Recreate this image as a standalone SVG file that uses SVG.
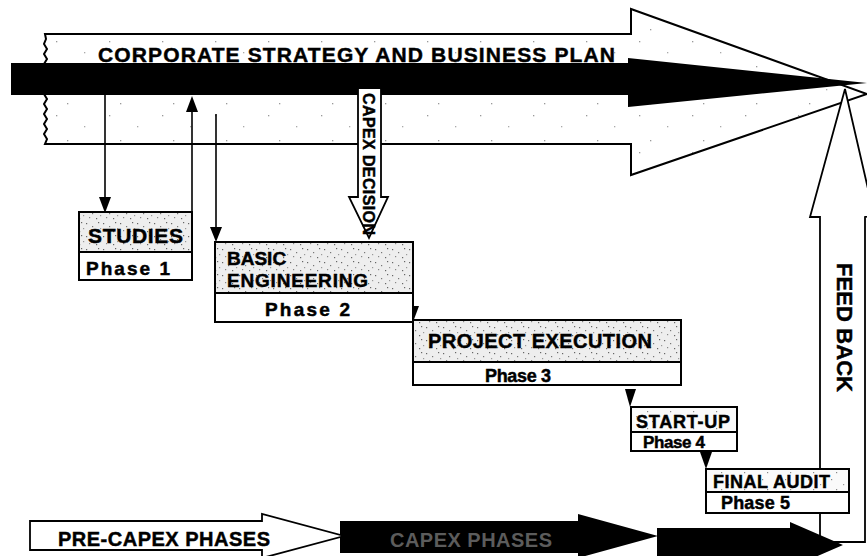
<svg xmlns="http://www.w3.org/2000/svg" width="867" height="556" viewBox="0 0 867 556">
<style>
.t{font-family:"Liberation Sans",Arial,sans-serif;font-weight:bold;fill:#000;stroke:#000;stroke-width:0.45}
.ol{fill:none;stroke:#000;stroke-width:2;stroke-linejoin:miter}
.box{stroke:#000;stroke-width:2}
.ln{stroke:#000;stroke-width:1.6;fill:none}
</style>
<defs>
<pattern id="sparse" width="53" height="37" patternUnits="userSpaceOnUse">
<rect width="53" height="37" fill="#fff"/>
<rect x="3" y="4" width="1.3" height="1.3" fill="#999"/>
<rect x="31" y="15" width="1.3" height="1.3" fill="#aaa"/>
<rect x="14" y="29" width="1.3" height="1.3" fill="#999"/>
</pattern>
<pattern id="dense" width="17" height="13" patternUnits="userSpaceOnUse">
<rect width="17" height="13" fill="#eeeeee"/>
<rect x="1" y="2" width="1.2" height="1.2" fill="#666"/>
<rect x="7" y="5" width="1.2" height="1.2" fill="#777"/>
<rect x="13" y="1" width="1.2" height="1.2" fill="#666"/>
<rect x="4" y="9" width="1.2" height="1.2" fill="#888"/>
<rect x="11" y="10" width="1.2" height="1.2" fill="#666"/>
<rect x="15" y="7" width="1.2" height="1.2" fill="#999"/>
</pattern>
<pattern id="light" width="23" height="17" patternUnits="userSpaceOnUse">
<rect width="23" height="17" fill="#fafafa"/>
<rect x="3" y="3" width="1.2" height="1.2" fill="#888"/>
<rect x="15" y="8" width="1.2" height="1.2" fill="#999"/>
<rect x="8" y="13" width="1.2" height="1.2" fill="#888"/>
</pattern>
</defs>

<g id="strategy-arrow">
<polygon points="45,34 631,34 631,9 867,94 631,175 631,144 45,144" fill="url(#sparse)"/>
<path class="ol" d="M45,34 H631 V9 L867,94 L631,175 V144 H45 l2,-5 l-3,-5 l3,-5 l-3,-5 l3,-5 l-3,-5 l3,-5 l-3,-5 l3,-5 l-3,-5 l3,-5 l-3,-5 l3,-5 l-3,-5 l3,-5 l-3,-5 l3,-5 l-3,-5 l3,-5 l-3,-5 l2,-5 l-1,-5 Z"/>
<polygon points="11,63 628,63 628,58 867,83 628,107 628,95 11,95" fill="#000"/>
<text class="t" x="98" y="62" font-size="21" textLength="517" lengthAdjust="spacing">CORPORATE STRATEGY AND BUSINESS PLAN</text>
</g>

<g id="capex-decision">
<polygon points="358,88 381,88 381,197 388,197 369,238 349,197 358,197" fill="#fff" stroke="#000" stroke-width="1.8"/>
<text class="t" transform="translate(363,93) rotate(90)" font-size="16" textLength="142" lengthAdjust="spacing">CAPEX DECISION</text>
</g>

<g id="feed-back">
<polygon points="820,542 820,217 810,217 845,89 874,215 865,217 865,542" fill="#fff" stroke="#000" stroke-width="1.8"/>
<text class="t" transform="translate(837,263) rotate(90)" font-size="22" textLength="129" lengthAdjust="spacing">FEED BACK</text>
</g>

<g id="connectors">
<line class="ln" x1="105" y1="95" x2="105" y2="200"/>
<polygon points="99,197 111,197 105,213"/>
<line class="ln" x1="192" y1="212" x2="192" y2="110"/>
<polygon points="186,112 198,112 192,96"/>
<line class="ln" x1="216" y1="114" x2="216" y2="230"/>
<polygon points="210,227 222,227 216,242"/>
<polygon points="407,306 419,306 413,322"/>
<polygon points="625,389 636,389 630,407"/>
<polygon points="700,452 712,452 706,469"/>
</g>

<g id="studies">
<rect class="box" x="79" y="212" width="113" height="40" fill="url(#dense)"/>
<rect class="box" x="79" y="252" width="113" height="28" fill="#fff"/>
<text class="t" x="88" y="243" font-size="21" textLength="95" lengthAdjust="spacing">STUDIES</text>
<text class="t" x="86" y="275" font-size="19" textLength="84" lengthAdjust="spacing">Phase 1</text>
</g>

<g id="basic-engineering">
<rect class="box" x="215" y="242" width="198" height="51" fill="url(#dense)"/>
<rect class="box" x="215" y="293" width="198" height="29" fill="#fff"/>
<text class="t" x="227" y="265" font-size="19">BASIC</text>
<text class="t" x="227" y="287" font-size="19" textLength="141" lengthAdjust="spacing">ENGINEERING</text>
<text class="t" x="265" y="316" font-size="19" textLength="85" lengthAdjust="spacing">Phase 2</text>
</g>

<g id="project-execution">
<rect class="box" x="413" y="320" width="268" height="42" fill="url(#dense)"/>
<rect class="box" x="413" y="362" width="268" height="23" fill="#fff"/>
<text class="t" x="428" y="348" font-size="20" textLength="224" lengthAdjust="spacing">PROJECT EXECUTION</text>
<text class="t" x="485" y="382" font-size="18" textLength="66" lengthAdjust="spacing">Phase 3</text>
</g>

<g id="start-up">
<rect class="box" x="631" y="407" width="106" height="25" fill="url(#light)"/>
<rect class="box" x="631" y="432" width="106" height="19" fill="#fff"/>
<text class="t" x="636" y="428" font-size="18" textLength="94" lengthAdjust="spacing">START-UP</text>
<text class="t" x="643" y="448" font-size="17" textLength="62" lengthAdjust="spacing">Phase 4</text>
</g>

<g id="final-audit">
<rect class="box" x="706" y="469" width="143" height="23" fill="url(#light)"/>
<rect class="box" x="706" y="492" width="143" height="21" fill="#fff"/>
<text class="t" x="713" y="488" font-size="18" textLength="117" lengthAdjust="spacing">FINAL AUDIT</text>
<text class="t" x="721" y="509" font-size="18" textLength="69" lengthAdjust="spacing">Phase 5</text>
</g>

<g id="capex-phases">
<polygon points="340,521 578,521 578,514 658,536 578,558 578,553 340,553" fill="#000"/>
<polygon points="657,528 790,528 790,522 843,545 790,568 790,560 657,560" fill="#000"/>
<text x="390" y="547" font-size="20" font-family="Liberation Sans,Arial,sans-serif" font-weight="bold" fill="#5c5c5c" textLength="162" lengthAdjust="spacing">CAPEX PHASES</text>
</g>

<g id="pre-capex-phases">
<polygon points="30,521 262,521 262,514 344,536 262,558 262,550 30,550" fill="#fff" stroke="#000" stroke-width="1.8"/>
<text class="t" x="58" y="546" font-size="20" textLength="212" lengthAdjust="spacing">PRE-CAPEX PHASES</text>
</g>
</svg>
